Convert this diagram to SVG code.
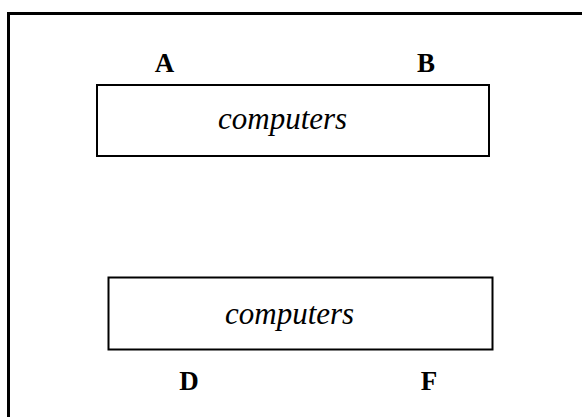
<svg xmlns="http://www.w3.org/2000/svg" width="582" height="417" viewBox="0 0 582 417">
  <style>
    .frame { fill: none; stroke: #000; stroke-width: 3; }
    .box { fill: #fff; stroke: #000; stroke-width: 2; }
    .label { font-family: "Liberation Serif", "Times New Roman", serif; font-weight: bold; font-size: 27px; fill: #000; }
    .name { font-family: "Liberation Serif", "Times New Roman", serif; font-style: italic; font-size: 31px; fill: #000; }
  </style>
  <rect width="582" height="417" fill="#fff"/>
  <!-- outer frame (right and bottom sides run past the canvas) -->
  <path class="frame" d="M8.5,420 V13.5 H585"/>
  <g id="connectors"/>
  <g id="top-computers">
    <rect class="box" x="97" y="85" width="392" height="71"/>
    <text class="name" x="218" y="128.5">computers</text>
  </g>
  <g id="bottom-computers">
    <rect class="box" x="108.5" y="277.5" width="384" height="72"/>
    <text class="name" x="225" y="323.5">computers</text>
  </g>
  <g id="label-A"><text class="label" x="164.5" y="71.5" text-anchor="middle">A</text></g>
  <g id="label-B"><text class="label" x="426" y="71.5" text-anchor="middle">B</text></g>
  <g id="label-D"><text class="label" x="189" y="389.5" text-anchor="middle">D</text></g>
  <g id="label-F"><text class="label" x="429" y="389.5" text-anchor="middle">F</text></g>
</svg>
